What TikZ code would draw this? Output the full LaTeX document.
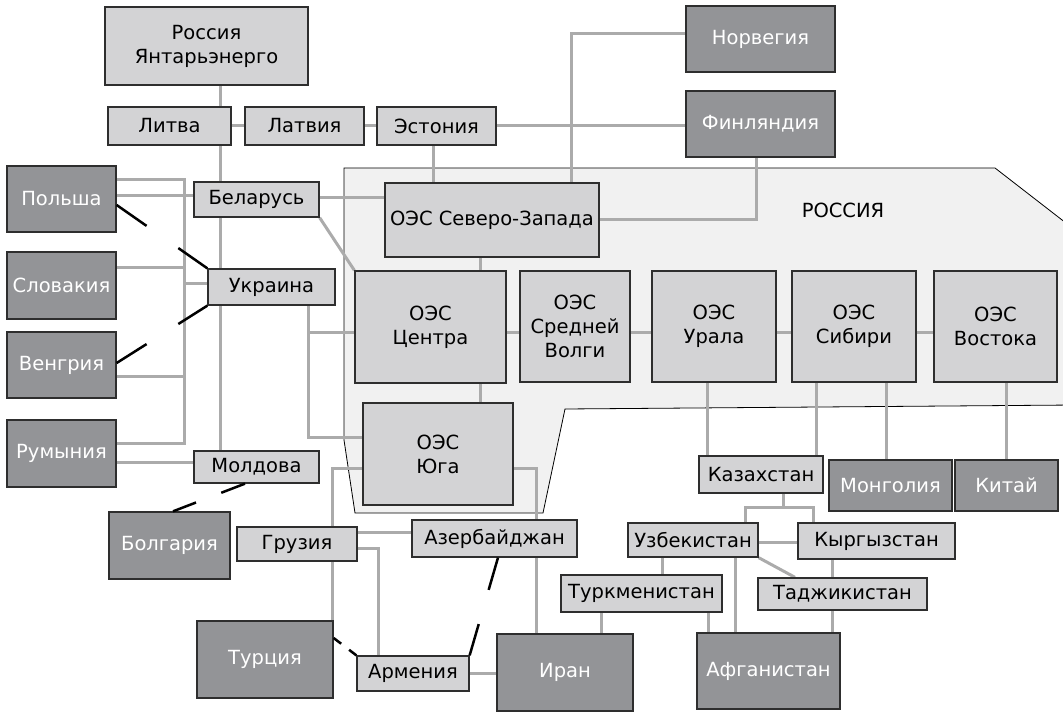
\documentclass[tikz,border=0pt]{standalone}
\usepackage{fontspec}
\setmainfont{DejaVu Sans}
\usetikzlibrary{calc,backgrounds}
\definecolor{lightbox}{HTML}{D3D3D5}
\definecolor{darkbox}{HTML}{939497}
\definecolor{conn}{HTML}{ABABAB}
\definecolor{rusfill}{HTML}{F1F1F1}
\definecolor{edge}{HTML}{2E2E2E}
\tikzset{
 box/.style={draw=edge, line width=1.3pt, inner sep=0pt, align=center, font=\fontsize{19.5}{24}\selectfont},
 lbox/.style={box, fill=lightbox, text=black},
 dbox/.style={box, fill=darkbox, text=white},
 link/.style={draw=conn, line width=3pt},
 brk/.style={draw=black, line width=2.5pt},
 label/.style={font=\fontsize{19.5}{24}\selectfont, text=black},
}
\newcommand\bx[7]{\node[#1, minimum width=#5pt, minimum height=#6pt] (#2) at (#3,#4) {#7};}
\newcommand\brkline[2]{\draw[brk] (#1) -- ($(#1)!0.33!(#2)$) ($(#1)!0.68!(#2)$) -- (#2);}
\begin{document}
\begin{tikzpicture}[x=1pt,y=-1pt]
\useasboundingbox (0,0) rectangle (1063,714);
% nodes
\bx{lbox}{yant}{206.5}{46}{203}{78}{Россия\\Янтарьэнерго}
\bx{lbox}{litva}{169.5}{126}{123}{38}{Литва}
\bx{lbox}{latv}{304.5}{126}{119}{38}{Латвия}
\bx{lbox}{eston}{436.5}{126}{119}{38}{Эстония}
\bx{dbox}{norw}{760.5}{39}{149}{66}{Норвегия}
\bx{dbox}{finl}{760.5}{124}{149}{66}{Финляндия}
\bx{lbox}{belar}{256.5}{199.5}{125}{35}{Беларусь}
\bx{lbox}{nw}{492}{220}{214}{74}{ОЭС Северо-Запада}
\bx{dbox}{polsha}{61.5}{199}{109}{66}{Польша}
\bx{dbox}{slov}{61.5}{285.5}{109}{67}{Словакия}
\bx{dbox}{veng}{61.5}{365}{109}{66}{Венгрия}
\bx{dbox}{rum}{61.5}{453.5}{109}{67}{Румыния}
\bx{lbox}{ukr}{271.5}{287}{127}{36}{Украина}
\bx{lbox}{mold}{256.5}{467}{125}{32}{Молдова}
\bx{lbox}{center}{430.5}{327}{151}{112}{ОЭС\\Центра}
\bx{lbox}{volga}{575}{326.5}{110}{111}{ОЭС\\Средней\\Волги}
\bx{lbox}{ural}{714}{326.5}{124}{111}{ОЭС\\Урала}
\bx{lbox}{sib}{854}{326.5}{124}{111}{ОЭС\\Сибири}
\bx{lbox}{vost}{995.5}{326.5}{123}{111}{ОЭС\\Востока}
\bx{lbox}{yug}{438}{454}{150}{102}{ОЭС\\Юга}
\bx{dbox}{bolg}{169.5}{545.5}{121}{67}{Болгария}
\bx{lbox}{gruz}{297}{544}{120}{34}{Грузия}
\bx{lbox}{azer}{494.5}{538.5}{165}{37}{Азербайджан}
\bx{dbox}{turc}{265}{659.5}{136}{77}{Турция}
\bx{lbox}{arm}{413}{673.5}{112}{35}{Армения}
\bx{dbox}{iran}{565}{672.5}{136}{77}{Иран}
\bx{lbox}{kaz}{761}{474.5}{124}{37}{Казахстан}
\bx{dbox}{mong}{890.5}{485.5}{123}{51}{Монголия}
\bx{dbox}{china}{1006.5}{485.5}{103}{51}{Китай}
\bx{lbox}{uzb}{693}{540}{130}{34}{Узбекистан}
\bx{lbox}{kyr}{876.5}{541}{157}{36}{Кыргызстан}
\bx{lbox}{tadj}{842.5}{594}{169}{32}{Таджикистан}
\bx{lbox}{turkm}{641.5}{593.5}{161}{37}{Туркменистан}
\bx{dbox}{afg}{768.5}{671}{143}{76}{Афганистан}
\node[label] (rus) at (843,210) {РОССИЯ};
% coordinates
\coordinate (kzj) at (783,507);
\coordinate (plbus) at (184,300);
\begin{scope}[on background layer]
\draw[fill=rusfill, draw=black, line width=0.8pt] (344,168) -- (995,168) -- (1075,230) -- (1075,405) -- (565,409) -- (543,513) -- (355,513) -- (344,440) -- cycle;
\path[link] (yant.south -| 220,0) -- (litva.north -| 220,0);
\path[link] (litva.east) -- (latv.west);
\path[link] (latv.east) -- (eston.west);
\path[link] (eston.east) -- (eston.east -| finl.west);
\path[link] (eston.south -| 433,0) -- (nw.north -| 433,0);
\path[link] (norw.west |- 0,34) -| (nw.north -| 571,0);
\path[link] (finl.south -| 756,0) |- (nw.east);
\path[link] (litva.south -| 220,0) -- (mold.north -| 220,0);
\path[link] (polsha.east |- 0,180) -| (plbus) |- (rum.east |- 0,443);
\path[link] (slov.east |- 0,267) -- (plbus |- 0,267);
\path[link] (veng.east |- 0,376) -- (plbus |- 0,376);
\path[link] (plbus |- 0,283) -- (ukr.west |- 0,283);
\path[link] (polsha.east |- 0,196) -- (belar.west |- 0,196);
\path[link] (belar.east |- 0,198) -- (nw.west |- 0,198);
\path[link] (belar.south east) -- (center.north west);
\path[link] (ukr.south -| 308,0) |- (center.west |- 0,332);
\path[link] (ukr.south -| 308,0) |- (yug.west |- 0,437);
\path[link] (rum.east |- 0,462) -- (mold.west |- 0,462);
\path[link] (nw.south -| 480,0) -- (center.north -| 480,0);
\path[link] (center.south -| 480,0) -- (yug.north -| 480,0);
\path[link] (center.east |- 0,332) -- (volga.west |- 0,332);
\path[link] (volga.east |- 0,332) -- (ural.west |- 0,332);
\path[link] (ural.east |- 0,332) -- (sib.west |- 0,332);
\path[link] (sib.east |- 0,332) -- (vost.west |- 0,332);
\path[link] (yug.west |- 0,468) -| (turc.north -| 332,0);
\path[link] (yug.east |- 0,468) -| (iran.north -| 536,0);
\path[link] (gruz.east |- 0,532) -- (azer.west |- 0,532);
\path[link] (gruz.east |- 0,548) -| (arm.north -| 378,0);
\path[link] (arm.east |- 0,673) -- (iran.west |- 0,673);
\path[link] (ural.south -| 707,0) -- (kaz.north -| 707,0);
\path[link] (sib.south -| 816,0) -- (kaz.north -| 816,0);
\path[link] (sib.south -| 886,0) -- (mong.north -| 886,0);
\path[link] (vost.south -| 1006,0) -- (china.north -| 1006,0);
\path[link] (kaz.south -| kzj) -- (kzj) -| (uzb.north -| 745,0);
\path[link] (kzj) -| (kyr.north -| 813,0);
\path[link] (uzb.east |- 0,542) -- (kyr.west |- 0,542);
\path[link] (uzb.south east) -- (tadj.north -| 795,0);
\path[link] (kyr.south -| 832,0) -- (tadj.north -| 832,0);
\path[link] (tadj.south -| 832,0) -- (afg.north -| 832,0);
\path[link] (uzb.south -| 662,0) -- (turkm.north -| 662,0);
\path[link] (turkm.south -| 601,0) -- (iran.north -| 601,0);
\path[link] (turkm.south -| 708,0) -- (afg.north -| 708,0);
\path[link] (uzb.south -| 735,0) -- (afg.north -| 735,0);
\end{scope}
% broken (black) connectors
\coordinate (bp1) at (polsha.east |- 0,205);
\coordinate (bp2) at (veng.east |- 0,363);
\coordinate (bp3) at (mold.south -| 245,0);
\coordinate (bp4) at (bolg.north -| 173,0);
\coordinate (bp5) at (azer.south -| 498,0);
\coordinate (bp6) at (turc.east |- 0,638);
\brkline{bp1}{ukr.north west}
\brkline{bp2}{ukr.south west}
\brkline{bp3}{bp4}
\brkline{bp5}{arm.north east}
\brkline{bp6}{arm.north west}
\end{tikzpicture}
\end{document}
